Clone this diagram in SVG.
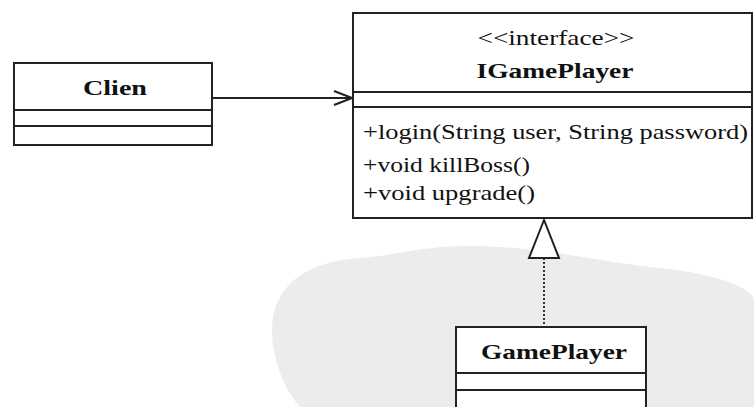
<svg xmlns="http://www.w3.org/2000/svg" width="754" height="407" viewBox="0 0 754 407">
<style>
.box{fill:#fff;stroke:#222;stroke-width:2}
.ln{stroke:#222;stroke-width:2;fill:none}
.t{font-family:"Liberation Serif","Times New Roman",serif;font-size:22px;fill:#111}
.b{font-weight:bold}
</style>
<defs>
<marker id="open" markerWidth="20" markerHeight="16" refX="19" refY="8" orient="auto" markerUnits="userSpaceOnUse">
<path d="M1,1 L19,8 L1,15" fill="none" stroke="#222" stroke-width="2"/>
</marker>
</defs>
<rect width="754" height="407" fill="#fff"/>
<path d="M272,330 C272,290 300,262 360,258 C400,255 420,246 470,246 C540,246 600,262 660,268 C720,274 754,290 754,300 L754,407 L300,407 C285,390 272,360 272,330 Z" fill="#ebeced"/>
<g id="connectors">
<line class="ln" x1="213" y1="98" x2="352" y2="98" marker-end="url(#open)"/>
<line x1="544" y1="258" x2="544" y2="327" stroke="#333" stroke-width="2" stroke-dasharray="2,2"/>
<path d="M544,220 L529,258 L559,258 Z" fill="#fff" stroke="#222" stroke-width="2"/>
</g>
<g id="Clien">
<rect class="box" x="14" y="63" width="198" height="82"/>
<line class="ln" x1="14" y1="110" x2="212" y2="110"/>
<line class="ln" x1="14" y1="126" x2="212" y2="126"/>
<text class="t b" x="115" y="95" text-anchor="middle" textLength="64" lengthAdjust="spacingAndGlyphs">Clien</text>
</g>
<g id="IGamePlayer">
<rect class="box" x="353" y="13" width="399" height="205"/>
<line class="ln" x1="353" y1="92" x2="752" y2="92"/>
<line class="ln" x1="353" y1="107" x2="752" y2="107"/>
<text class="t" x="556" y="45" text-anchor="middle" textLength="157" lengthAdjust="spacingAndGlyphs">&lt;&lt;interface&gt;&gt;</text>
<text class="t b" x="555" y="78" text-anchor="middle" textLength="157" lengthAdjust="spacingAndGlyphs">IGamePlayer</text>
<text class="t" x="363" y="139" textLength="385" lengthAdjust="spacingAndGlyphs">+login(String user, String password)</text>
<text class="t" x="363" y="172" textLength="167" lengthAdjust="spacingAndGlyphs">+void killBoss()</text>
<text class="t" x="363" y="200" textLength="172" lengthAdjust="spacingAndGlyphs">+void upgrade()</text>
</g>
<g id="GamePlayer">
<rect class="box" x="456" y="327" width="190" height="100"/>
<line class="ln" x1="456" y1="373" x2="646" y2="373"/>
<line class="ln" x1="456" y1="390" x2="646" y2="390"/>
<text class="t b" x="554" y="359" text-anchor="middle" textLength="146" lengthAdjust="spacingAndGlyphs">GamePlayer</text>
</g>
</svg>
